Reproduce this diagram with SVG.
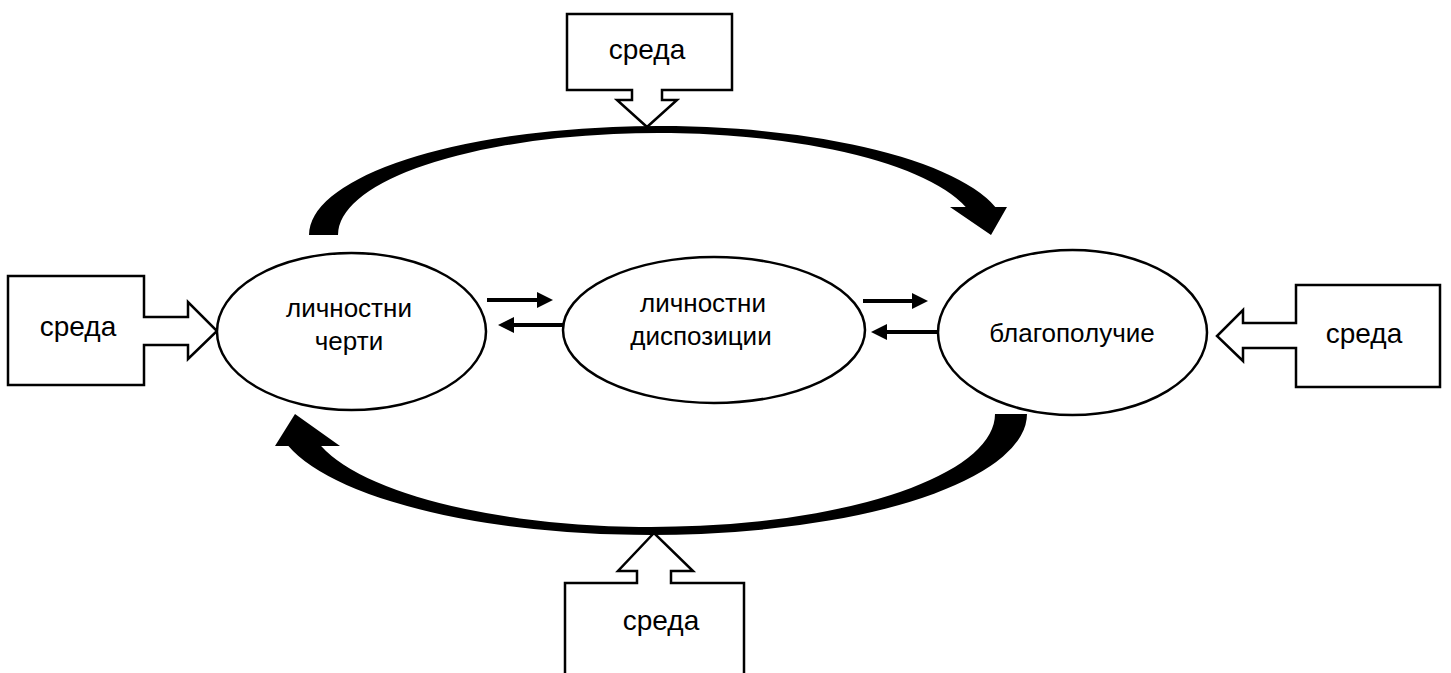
<svg xmlns="http://www.w3.org/2000/svg" width="1451" height="673" viewBox="0 0 1451 673">
  <style>
    .bg { fill: #ffffff; }
    .node { fill: #ffffff; stroke: #000000; stroke-width: 2.5; }
    .callout { fill: #ffffff; stroke: #000000; stroke-width: 2.5; stroke-linejoin: miter; }
    .big { fill: #000000; stroke: none; }
    .small { stroke: #000000; stroke-width: 4; fill: none; }
    .lbl { font-family: "Liberation Sans", Arial, sans-serif; font-size: 26px; fill: #000000; text-anchor: middle; }
    .env { font-family: "Liberation Sans", Arial, sans-serif; font-size: 28px; fill: #000000; text-anchor: middle; }
  </style>
  <defs>
    <marker id="head" markerUnits="userSpaceOnUse" markerWidth="18" markerHeight="16" refX="2" refY="8" orient="auto">
      <path d="M0,0 L16,8 L0,16 Z" fill="#000000"/>
    </marker>
  </defs>
  <rect class="bg" x="0" y="0" width="1451" height="673"/>

  <!-- connectors: the two large curved arrows and the small paired arrows -->
  <g id="connectors">
    <path id="arc-top" class="big" d="M 309 235 A 349 109 0 0 1 995.3 207 L 1007 207 L 991 235 L 950 207 L 965.7 207 A 320 102 0 0 0 338 235 Z"/>
    <path id="arc-bottom" class="big" d="M 1027 414 A 376 121 0 0 1 288.4 446 L 275 446 L 295 414 L 340 446 L 321.1 446 A 344 113 0 0 0 995 414 Z"/>
    <line class="small" x1="487" y1="300" x2="539" y2="300" marker-end="url(#head)"/>
    <line class="small" x1="563" y1="325" x2="512" y2="325" marker-end="url(#head)"/>
    <line class="small" x1="863" y1="301" x2="914" y2="301" marker-end="url(#head)"/>
    <line class="small" x1="937" y1="332" x2="885" y2="332" marker-end="url(#head)"/>
  </g>

  <!-- environment callouts -->
  <g id="env-top">
    <path class="callout" d="M 567 14 L 732 14 L 732 90 L 662 90 L 662 100 L 677 100 L 647 127 L 617 100 L 632 100 L 632 90 L 567 90 Z"/>
    <text class="env" x="647" y="59">среда</text>
  </g>
  <g id="env-left">
    <path class="callout" d="M 8 276 L 144 276 L 144 317 L 188 317 L 188 302 L 217 331 L 188 359 L 188 345 L 144 345 L 144 385 L 8 385 Z"/>
    <text class="env" x="78" y="336">среда</text>
  </g>
  <g id="env-right">
    <path class="callout" d="M 1440 285 L 1296 285 L 1296 323 L 1243 323 L 1243 310 L 1217 336 L 1243 361 L 1243 348 L 1296 348 L 1296 387 L 1440 387 Z"/>
    <text class="env" x="1364" y="343">среда</text>
  </g>
  <g id="env-bottom">
    <path class="callout" d="M 565 690 L 565 583 L 637 583 L 637 571 L 618 571 L 654 533 L 693 571 L 671 571 L 671 583 L 744 583 L 744 690 Z"/>
    <text class="env" x="661" y="630">среда</text>
  </g>

  <!-- main nodes -->
  <g id="node-traits">
    <ellipse class="node" cx="351.5" cy="331.5" rx="134.5" ry="78.5"/>
    <text class="lbl" x="349" y="317">личностни</text>
    <text class="lbl" x="349" y="350">черти</text>
  </g>
  <g id="node-dispositions">
    <ellipse class="node" cx="714" cy="330" rx="151" ry="73"/>
    <text class="lbl" x="703" y="312">личностни</text>
    <text class="lbl" x="701" y="345">диспозиции</text>
  </g>
  <g id="node-wellbeing">
    <ellipse class="node" cx="1072.5" cy="332.5" rx="134.5" ry="82.5"/>
    <text class="lbl" x="1072" y="342">благополучие</text>
  </g>
</svg>
